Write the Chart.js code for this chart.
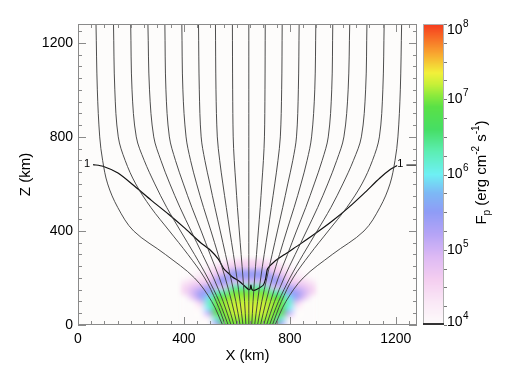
<!DOCTYPE html>
<html lang="en">
<head>
<meta charset="UTF-8">
<title>Field lines and F_p</title>
<script src="https://cdn.jsdelivr.net/npm/chart.js@4.4.0/dist/chart.umd.min.js"></script>
<style>
  html, body { margin: 0; padding: 0; background: #fff; }
  #wrap { position: relative; width: 525px; height: 375px; }
</style>
</head>
<body>
<div id="wrap"><canvas id="fpChart" width="525" height="375"></canvas></div>
<script>
const lineZ = [0, 100, 200, 300, 400, 500, 600, 700, 800, 1000, 1280];

// X (km) of the 19 field lines at those heights, left to right
const fieldLinesX = [
  [546, 505, 440, 330, 210, 150, 112, 93, 82, 73, 68],
  [556, 522, 478, 415, 345, 275, 218, 178, 152, 139, 134],
  [567, 533, 490, 440, 387, 335, 290, 250, 220, 204, 199],
  [578, 548, 512, 470, 427, 385, 347, 313, 286, 270, 264],
  [589, 563, 534, 499, 465, 430, 398, 368, 345, 332, 328],
  [601, 580, 556, 529, 502, 474, 448, 425, 408, 396, 392],
  [612, 596, 577, 557, 537, 517, 498, 479, 465, 458, 455],
  [623, 612, 600, 587, 573, 560, 547, 535, 526, 521, 519],
  [634, 629, 623, 616, 609, 602, 596, 590, 586, 584, 583],
  [645, 645, 645, 645, 645, 645, 645, 645, 645, 645, 645],
  [656, 661, 667, 674, 681, 688, 694, 700, 704, 706, 707],
  [667, 678, 690, 703, 717, 730, 743, 755, 764, 769, 771],
  [678, 694, 713, 733, 753, 773, 792, 811, 825, 832, 835],
  [689, 710, 734, 761, 788, 816, 842, 865, 882, 894, 898],
  [701, 727, 756, 791, 825, 860, 892, 922, 945, 958, 962],
  [712, 742, 778, 820, 863, 905, 943, 977, 1004, 1020, 1026],
  [723, 757, 800, 850, 903, 955, 1000, 1040, 1070, 1086, 1091],
  [734, 768, 812, 875, 945, 1015, 1072, 1112, 1138, 1151, 1156],
  [744, 785, 850, 960, 1080, 1140, 1178, 1197, 1208, 1217, 1222]
];

// the "1" contour
const contourX = [57, 94, 151, 214, 277, 341, 400, 463, 500, 530, 550, 566, 583, 610, 630, 645, 650, 653, 657, 668, 685, 700, 708, 712, 716, 740, 780, 840, 900, 960, 1020, 1080, 1140, 1180, 1205];
const contourZ = [682, 675, 646, 590, 530, 472, 415, 350, 318, 280, 240, 222, 204, 185, 165, 150, 153, 170, 150, 148, 158, 170, 195, 220, 240, 268, 300, 345, 392, 442, 498, 560, 625, 662, 678];
const contourTailX = [1240, 1280];
const contourTailZ = [680, 680];
const contourLabel = '1';

// log10 Fp on a coarse grid (cell centres, km)
const gridX = [405, 435, 465, 495, 525, 555, 585, 615, 645, 675, 705, 735, 765, 795, 825, 855, 885];
const gridZ = [10, 30, 50, 70, 90, 110, 130, 150, 170, 190, 210, 230, 250, 270];
const logFlux = [
  [4, 4, 4, 4, 4.4, 6.6, 6.9, 6.9, 6.9, 6.9, 6.9, 6.6, 4.4, 4, 4, 4, 4],
  [4, 4, 4, 4, 5.5, 6.9, 7.0, 7.0, 7.0, 7.0, 7.0, 6.9, 5.5, 4, 4, 4, 4],
  [4, 4, 4, 4.2, 6.2, 7.0, 7.1, 7.1, 7.1, 7.1, 7.1, 7.0, 6.2, 4.2, 4, 4, 4],
  [4, 4, 4, 5.2, 6.9, 7.0, 7.2, 7.2, 7.2, 7.2, 7.2, 7.0, 6.9, 5.2, 4, 4, 4],
  [4, 4, 4.2, 6.0, 6.9, 7.1, 7.2, 7.25, 7.25, 7.25, 7.2, 7.1, 6.9, 6.0, 4.2, 4, 4],
  [4, 4, 4.7, 6.2, 7.0, 7.1, 7.2, 7.2, 7.2, 7.2, 7.2, 7.1, 7.0, 6.2, 4.7, 4, 4],
  [4, 4.8, 5.4, 6.0, 6.9, 7.0, 7.1, 7.1, 7.1, 7.1, 7.1, 7.0, 6.9, 6.0, 5.4, 4.8, 4],
  [4.5, 5.0, 5.4, 5.4, 6.3, 6.3, 7.0, 7.0, 7.0, 7.0, 7.0, 6.3, 6.3, 5.4, 5.4, 5.0, 4.5],
  [4.5, 4.8, 5.0, 5.4, 4.8, 4.8, 6.3, 6.3, 6.3, 6.3, 6.3, 4.8, 4.8, 5.4, 5.0, 4.8, 4.5],
  [4.3, 4.5, 4.6, 4.6, 5.4, 5.4, 4.8, 4.8, 4.8, 4.8, 4.8, 5.4, 5.4, 4.6, 4.6, 4.5, 4.3],
  [4, 4.2, 4.3, 4.6, 5.0, 5.4, 5.4, 5.4, 5.4, 5.4, 5.4, 5.4, 5.0, 4.6, 4.3, 4.2, 4],
  [4, 4, 4.2, 4.3, 4.6, 4.6, 5.4, 5.4, 5.4, 5.4, 5.4, 4.6, 4.6, 4.3, 4.2, 4, 4],
  [4, 4, 4, 4.2, 4.4, 4.6, 4.6, 4.6, 4.6, 4.6, 4.6, 4.6, 4.4, 4.2, 4, 4, 4],
  [4, 4, 4, 4, 4, 4.2, 4.4, 4.5, 4.5, 4.5, 4.4, 4.2, 4, 4, 4, 4, 4]
];

// ticks
const xMajor = [0, 400, 800, 1200];
const zMajor = [0, 400, 800, 1200];
const minorStep = 50;
const cbMajor = [4, 5, 6, 7, 8];
const cbMinorStep = 0.25;

const FONT = '"Liberation Sans", Arial, Helvetica, sans-serif';

// rainbow-ish colour table, log10 Fp -> rgb
const cmap = [
  [4.0, [253, 251, 251]],
  [4.3, [250, 232, 246]],
  [4.6, [244, 206, 240]],
  [4.9, [222, 186, 244]],
  [5.2, [182, 164, 246]],
  [5.5, [143, 156, 246]],
  [5.75, [125, 184, 245]],
  [6.0, [110, 240, 244]],
  [6.3, [92, 238, 180]],
  [6.6, [70, 222, 100]],
  [6.9, [90, 225, 70]],
  [7.05, [140, 234, 60]],
  [7.2, [200, 240, 56]],
  [7.35, [242, 240, 58]],
  [7.6, [248, 168, 48]],
  [8.0, [246, 58, 30]]
];

function colorFor(v) {
  if (v <= cmap[0][0]) return cmap[0][1];
  for (let i = 1; i < cmap.length; i++) {
    if (v <= cmap[i][0]) {
      const [v0, c0] = cmap[i - 1], [v1, c1] = cmap[i];
      const t = (v - v0) / (v1 - v0);
      return c0.map((c, k) => Math.round(c + (c1[k] - c) * t));
    }
  }
  return cmap[cmap.length - 1][1];
}

const fpPlugin = {
  id: 'fpExtras',
  beforeDatasetsDraw(chart) {
    const { ctx, chartArea: a, scales: { x, y } } = chart;
    ctx.save();
    ctx.fillStyle = '#fdfcfb';
    ctx.fillRect(a.left, a.top, a.right - a.left, a.bottom - a.top);

    // heat map: one pixel per cell, stretched with smoothing and a light blur
    const off = document.createElement('canvas');
    off.width = gridX.length;
    off.height = gridZ.length;
    const octx = off.getContext('2d');
    const img = octx.createImageData(off.width, off.height);
    logFlux.forEach((row, j) => row.forEach((v, i) => {
      const c = colorFor(v);
      const k = ((gridZ.length - 1 - j) * gridX.length + i) * 4;
      img.data[k] = c[0]; img.data[k + 1] = c[1]; img.data[k + 2] = c[2]; img.data[k + 3] = 255;
    }));
    octx.putImageData(img, 0, 0);
    const dx = gridX[1] - gridX[0], dz = gridZ[1] - gridZ[0];
    const x0 = x.getPixelForValue(gridX[0] - dx / 2);
    const x1 = x.getPixelForValue(gridX[gridX.length - 1] + dx / 2);
    const y0 = y.getPixelForValue(gridZ[gridZ.length - 1] + dz / 2);
    const y1 = y.getPixelForValue(gridZ[0] - dz / 2);
    ctx.beginPath();
    ctx.rect(a.left, a.top, a.right - a.left, a.bottom - a.top);
    ctx.clip();
    ctx.imageSmoothingEnabled = true;
    ctx.imageSmoothingQuality = 'high';
    ctx.filter = 'blur(2px)';
    ctx.drawImage(off, x0, y0, x1 - x0, y1 - y0 + 6);
    ctx.filter = 'none';
    ctx.restore();
  },
  afterDatasetsDraw(chart) {
    const { ctx, chartArea: a, scales: { x, y, cb } } = chart;
    ctx.save();

    // contour labels
    ctx.fillStyle = '#000';
    ctx.font = '11px ' + FONT;
    ctx.textAlign = 'center';
    ctx.textBaseline = 'middle';
    ctx.fillText(contourLabel, x.getPixelForValue(34), y.getPixelForValue(683));
    ctx.fillText(contourLabel, x.getPixelForValue(1217), y.getPixelForValue(683));

    // frame and inward ticks on all sides
    ctx.strokeStyle = '#8a8a8a';
    ctx.lineWidth = 1;
    ctx.strokeRect(a.left + 0.5, a.top + 0.5, a.right - a.left - 1, a.bottom - a.top - 1);
    ctx.beginPath();
    for (let v = 0; v <= 1280; v += minorStep) {
      const lenX = xMajor.includes(v) ? 8 : 4;
      const px = Math.round(x.getPixelForValue(v)) + 0.5;
      ctx.moveTo(px, a.bottom); ctx.lineTo(px, a.bottom - lenX);
      ctx.moveTo(px, a.top); ctx.lineTo(px, a.top + lenX);
      const lenZ = zMajor.includes(v) ? 8 : 4;
      const py = Math.round(y.getPixelForValue(v)) + 0.5;
      ctx.moveTo(a.left, py); ctx.lineTo(a.left + lenZ, py);
      ctx.moveTo(a.right, py); ctx.lineTo(a.right - lenZ, py);
    }
    ctx.stroke();

    // colour bar
    const bx0 = a.right + 6, bx1 = a.right + 27;
    const top = cb.getPixelForValue(8), bot = cb.getPixelForValue(4);
    for (let py = Math.floor(top); py < bot; py++) {
      const c = colorFor(cb.getValueForPixel(py + 0.5));
      ctx.fillStyle = `rgb(${c[0]},${c[1]},${c[2]})`;
      ctx.fillRect(bx0, py, bx1 - bx0, 1);
    }
    ctx.strokeStyle = '#b0b0b0';
    ctx.strokeRect(bx0 + 0.5, top + 0.5, bx1 - bx0 - 1, bot - top - 1);
    ctx.fillStyle = '#333';
    ctx.fillRect(bx0, bot - 2, bx1 - bx0, 2);
    ctx.strokeStyle = '#777';
    ctx.beginPath();
    for (let v = 4; v <= 8.001; v += cbMinorStep) {
      const py = Math.round(cb.getPixelForValue(v)) + 0.5;
      ctx.moveTo(bx1, py); ctx.lineTo(bx1 + 3, py);
    }
    ctx.stroke();

    // colour bar labels 10^n
    ctx.fillStyle = '#000';
    ctx.textAlign = 'left';
    ctx.textBaseline = 'middle';
    cbMajor.forEach(e => {
      let py = cb.getPixelForValue(e);
      py = Math.min(Math.max(py, top + 6), bot - 3);
      ctx.font = '14px ' + FONT;
      ctx.fillText('10', a.right + 30, py);
      const w = ctx.measureText('10').width;
      ctx.font = '10px ' + FONT;
      ctx.fillText(String(e), a.right + 30 + w + 0.5, py - 6);
    });

    // colour bar title, read bottom to top
    const parts = [
      ['F', 15, 0], ['p', 10, 5], [' (erg cm', 15, 0], ['-2', 10, -6],
      [' s', 15, 0], ['-1', 10, -6], [')', 15, 0]
    ];
    let total = 0;
    parts.forEach(p => { ctx.font = p[1] + 'px ' + FONT; total += ctx.measureText(p[0]).width; });
    ctx.translate(a.right + 65, (a.top + a.bottom) / 2 - 2);
    ctx.rotate(-Math.PI / 2);
    let cx = -total / 2;
    parts.forEach(p => {
      ctx.font = p[1] + 'px ' + FONT;
      ctx.fillText(p[0], cx, p[2]);
      cx += ctx.measureText(p[0]).width;
    });
    ctx.restore();
  }
};

const datasets = fieldLinesX.map(xs => ({
  data: xs.map((v, i) => ({ x: v, y: lineZ[i] })),
  showLine: true,
  pointRadius: 0,
  borderColor: '#3a3a3a',
  borderWidth: 0.9,
  tension: 0.35
}));
datasets.push({
  data: contourX.map((v, i) => ({ x: v, y: contourZ[i] })),
  showLine: true, pointRadius: 0, borderColor: '#111', borderWidth: 1.2, tension: 0.25
});
datasets.push({
  data: contourTailX.map((v, i) => ({ x: v, y: contourTailZ[i] })),
  showLine: true, pointRadius: 0, borderColor: '#111', borderWidth: 1.2
});

const tickFont = { family: FONT, size: 14 };

new Chart(document.getElementById('fpChart'), {
  type: 'scatter',
  data: { datasets },
  options: {
    responsive: false,
    animation: false,
    events: [],
    layout: { padding: { top: 24, left: 0, right: 0, bottom: 0 } },
    plugins: { legend: { display: false }, tooltip: { enabled: false } },
    scales: {
      x: {
        type: 'linear', min: 0, max: 1280,
        afterBuildTicks: s => { s.ticks = xMajor.map(v => ({ value: v })); },
        ticks: { font: tickFont, color: '#000', padding: 6, maxRotation: 0, autoSkip: false, callback: v => String(v) },
        grid: { display: false, drawTicks: false },
        border: { display: false },
        title: { display: true, text: 'X (km)', font: { family: FONT, size: 15 }, color: '#000', padding: { top: 0, bottom: 10 } },
        afterFit: s => { s.height = 50; }
      },
      y: {
        type: 'linear', min: 0, max: 1280,
        afterBuildTicks: s => { s.ticks = zMajor.map(v => ({ value: v })); },
        ticks: { font: tickFont, color: '#000', padding: 5, callback: v => String(v) },
        grid: { display: false, drawTicks: false },
        border: { display: false },
        title: { display: true, text: 'Z (km)', font: { family: FONT, size: 15 }, color: '#000', padding: { top: 17, bottom: 0 } },
        afterFit: s => { s.width = 78; }
      },
      cb: {
        type: 'linear', position: 'right', min: 4, max: 8,
        ticks: { display: false },
        grid: { display: false, drawTicks: false },
        border: { display: false },
        afterFit: s => { s.width = 108; }
      }
    }
  },
  plugins: [fpPlugin]
});
</script>
</body>
</html>
